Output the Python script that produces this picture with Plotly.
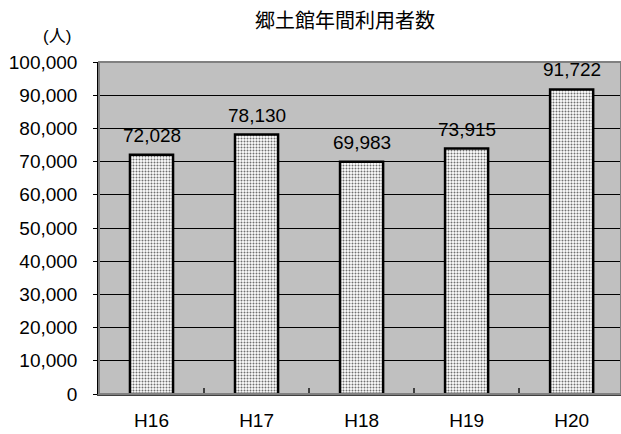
import plotly.graph_objects as go

categories = ["H16", "H17", "H18", "H19", "H20"]
visitors = [72028, 78130, 69983, 73915, 91722]
value_labels = ["72,028", "78,130", "69,983", "73,915", "91,722"]
y_tickvals = [0, 10000, 20000, 30000, 40000, 50000, 60000, 70000, 80000, 90000, 100000]
y_ticktext = ["0", "10,000", "20,000", "30,000", "40,000", "50,000", "60,000",
              "70,000", "80,000", "90,000", "100,000"]
title_text = "郷土館年間利用者数"
unit_text = "(人)"

FONT = "Liberation Sans, Arial, Noto Sans CJK JP, sans-serif"

W, H = 621, 434
ML, MR, MT, MB = 99, 0, 62, 40
PW, PH = W - ML - MR, H - MT - MB


def px_x(px):
    return (px - ML) / PW


def px_y(py):
    return (H - MB - py) / PH


fig = go.Figure()
fig.add_trace(go.Bar(
    x=categories, y=visitors, width=0.41,
    marker=dict(
        color="#ffffff",
        line=dict(color="#000000", width=2.5),
        pattern=dict(shape=".", fgcolor="#707070", bgcolor="#ffffff",
                     size=3, solidity=0.35, fillmode="replace"),
    ),
    hoverinfo="skip",
))

for c, v, t in zip(categories, visitors, value_labels):
    fig.add_annotation(x=c, y=v, xref="x", yref="y", text=t, showarrow=False,
                       yanchor="bottom", yshift=7,
                       font=dict(family=FONT, size=19, color="#000000"))

fig.add_annotation(x=px_x(345), y=px_y(21), xref="paper", yref="paper",
                   text=title_text, showarrow=False, xanchor="center", yanchor="middle",
                   font=dict(family=FONT, size=20, color="#000000"))
fig.add_annotation(x=px_x(57), y=px_y(37), xref="paper", yref="paper",
                   text=unit_text, showarrow=False, xanchor="center", yanchor="middle",
                   font=dict(family=FONT, size=17, color="#000000"))

# plot area border
fig.add_shape(type="rect", xref="paper", yref="paper", x0=0, x1=1, y0=0, y1=1,
              line=dict(color="#808080", width=2), fillcolor="rgba(0,0,0,0)", layer="above")

fig.update_layout(
    width=W, height=H,
    margin=dict(l=ML, r=MR, t=MT, b=MB, pad=0),
    paper_bgcolor="#ffffff", plot_bgcolor="#c0c0c0",
    showlegend=False,
    font=dict(family=FONT, size=19, color="#000000"),
    xaxis=dict(
        type="category", range=[-0.5, 4.47],
        showgrid=False, zeroline=False,
        showline=True, linecolor="#404040", linewidth=2,
        ticks="inside", tickson="boundaries", ticklen=6, tickcolor="#404040", tickwidth=1.5,
        ticklabelstandoff=8,
        tickfont=dict(family=FONT, size=19, color="#000000"),
    ),
    yaxis=dict(
        range=[0, 100000], tickvals=y_tickvals, ticktext=y_ticktext,
        showgrid=True, gridcolor="#000000", gridwidth=1,
        zeroline=False,
        showline=True, linecolor="#000000", linewidth=1.5,
        ticks="outside", ticklen=4, tickcolor="#000000",
        ticklabelstandoff=12,
        tickfont=dict(family=FONT, size=19, color="#000000"),
    ),
    bargap=0.59,
)

fig.write_html("out.html", config={"displayModeBar": False},
               post_script="document.body.style.margin='0';document.body.style.padding='0';")
